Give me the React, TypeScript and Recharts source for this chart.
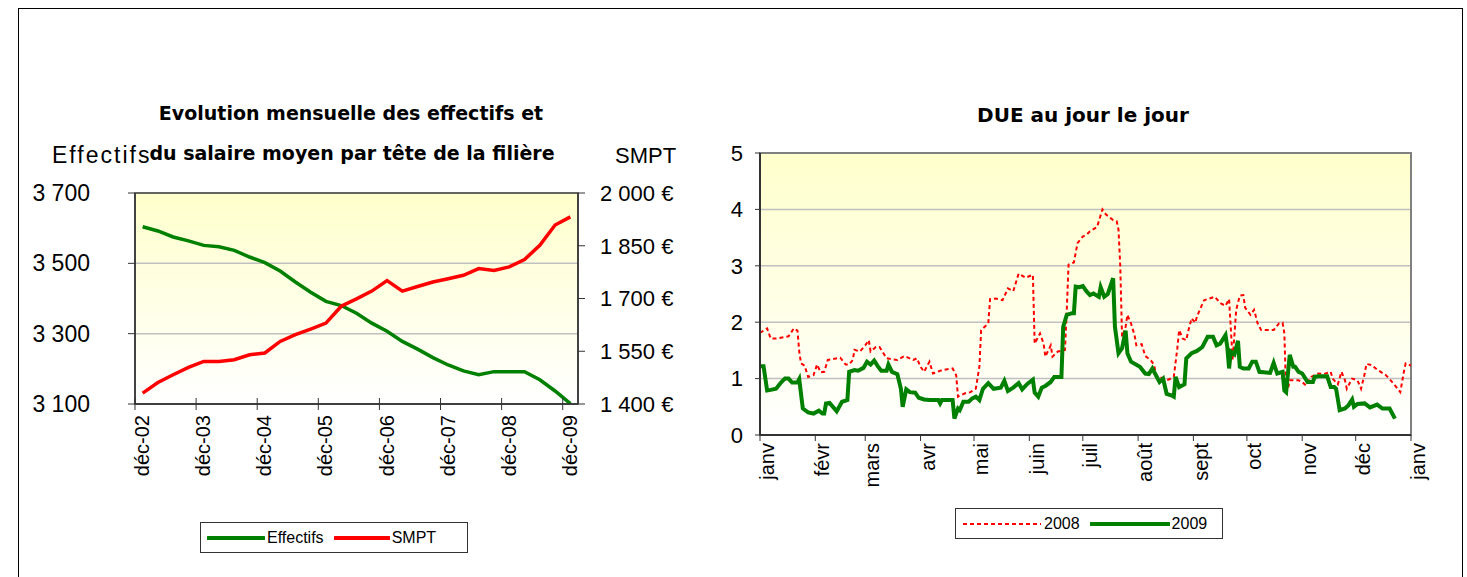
import React from 'react';
import { LineChart, Line, XAxis, YAxis, CartesianGrid, ReferenceArea } from 'recharts';

// ---- Left chart: quarterly workforce and average wage ----
const quarters = [
  'déc-02', 'mars-03', 'juin-03', 'sept-03', 'déc-03', 'mars-04', 'juin-04', 'sept-04',
  'déc-04', 'mars-05', 'juin-05', 'sept-05', 'déc-05', 'mars-06', 'juin-06', 'sept-06',
  'déc-06', 'mars-07', 'juin-07', 'sept-07', 'déc-07', 'mars-08', 'juin-08', 'sept-08',
  'déc-08', 'mars-09', 'juin-09', 'sept-09', 'déc-09',
];
const effectifs = [
  3604, 3592, 3575, 3564, 3551, 3547, 3537, 3518, 3502, 3478, 3447, 3418, 3392, 3380, 3358,
  3330, 3307, 3278, 3256, 3232, 3211, 3194, 3183, 3192, 3192, 3192, 3169, 3137, 3101,
];
const smpt = [
  1431, 1461, 1483, 1504, 1521, 1521, 1526, 1540, 1545, 1578, 1597, 1613, 1630, 1678, 1699,
  1721, 1751, 1721, 1734, 1747, 1756, 1766, 1785, 1780, 1790, 1811, 1851, 1909, 1932,
];
const yearTicks = [-0.5, 3.5, 7.5, 11.5, 15.5, 19.5, 23.5, 27.5];
const effectifsTicks = [3100, 3300, 3500, 3700];
const smptTicks = [1400, 1550, 1700, 1850, 2000];

// ---- Right chart: daily DUE, day of year ----
const monthStarts = [0, 31, 59, 90, 120, 151, 181, 212, 243, 273, 304, 334, 365];
const monthLabels = ['janv', 'févr', 'mars', 'avr', 'mai', 'juin', 'juil', 'août', 'sept', 'oct', 'nov', 'déc', 'janv'];
const dueTicks = [0, 1, 2, 3, 4, 5];

const days2008 = [
  0, 4, 6, 9, 16, 19, 21, 22, 23, 25, 27, 30, 32, 34, 36, 38, 40, 45, 48, 50, 52, 53, 56, 59, 61,
  62, 65, 67, 71, 77, 81, 86, 88, 90, 92, 95, 97, 102, 108, 110, 111, 115, 118, 121, 123, 124, 128,
  129, 132, 136, 139, 142, 145, 149, 153, 154, 157, 159, 160, 163, 164, 167, 171, 172, 173, 176,
  178, 181, 183, 185, 189, 192, 194, 198, 200, 201, 202, 203, 205, 206, 208, 210, 211, 214, 216,
  219, 221, 222, 226, 229, 232, 234, 235, 237, 239, 240, 242, 244, 245, 247, 249, 251, 255, 258,
  261, 263, 265, 267, 269, 271, 272, 275, 277, 279, 281, 288, 291, 293, 294, 295, 296, 297, 302,
  304, 306, 309, 313, 316, 320, 321, 324, 326, 328, 329, 332, 335, 337, 339, 340, 343, 346, 351,
  355, 359, 361, 362, 365,
];
const values2008 = [
  1.81, 1.89, 1.71, 1.71, 1.75, 1.89, 1.85, 1.48, 1.27, 1.23, 1.03, 1.06, 1.25, 1.11, 1.12, 1.33,
  1.34, 1.37, 1.25, 1.25, 1.33, 1.51, 1.48, 1.59, 1.68, 1.48, 1.56, 1.56, 1.36, 1.33, 1.4, 1.33,
  1.36, 1.21, 1.12, 1.3, 1.09, 1.15, 1.18, 1.06, 0.68, 0.74, 0.76, 0.82, 1.21, 1.86, 1.98, 2.41,
  2.42, 2.39, 2.6, 2.55, 2.86, 2.79, 2.84, 1.62, 1.8, 1.62, 1.39, 1.59, 1.39, 1.48, 1.51, 2.22,
  3.02, 3.06, 3.4, 3.52, 3.55, 3.61, 3.69, 4.0, 3.91, 3.81, 3.79, 3.64, 2.99, 1.74, 1.92, 2.13,
  1.98, 1.77, 1.59, 1.61, 1.4, 1.33, 1.24, 1.06, 1.0, 0.98, 1.03, 1.54, 1.86, 1.71, 1.68, 1.83,
  2.07, 1.99, 2.1, 2.25, 2.39, 2.41, 2.45, 2.34, 2.29, 2.41, 1.33, 2.22, 2.47, 2.48, 2.26, 2.13,
  2.22, 1.98, 1.86, 1.86, 1.98, 1.99, 1.8, 0.74, 0.82, 0.97, 0.97, 0.94, 0.88, 1.03, 1.09, 1.08,
  1.12, 1.0, 0.9, 1.12, 0.97, 0.82, 1.0, 0.97, 0.82, 1.08, 1.26, 1.24, 1.16, 1.06, 0.92, 0.76,
  1.12, 1.27, 1.23,
];
const days2009 = [
  0, 2, 4, 6, 9, 12, 14, 16, 18, 21, 22, 24, 27, 30, 33, 35, 36, 37, 39, 43, 46, 49, 50, 53, 55,
  58, 60, 62, 64, 66, 68, 71, 72, 74, 77, 79, 80, 82, 84, 87, 89, 92, 95, 100, 101, 102, 108, 109,
  111, 112, 114, 117, 119, 121, 123, 125, 128, 131, 135, 137, 139, 142, 145, 147, 150, 153, 154,
  156, 158, 160, 163, 165, 169, 170, 172, 175, 176, 177, 179, 181, 183, 185, 187, 190, 191, 193,
  195, 198, 199, 201, 203, 205, 206, 208, 213, 216, 218, 220, 222, 224, 226, 228, 231, 232, 233,
  235, 238, 239, 242, 245, 248, 251, 254, 256, 258, 261, 262, 263, 264, 266, 268, 269, 271, 274,
  276, 278, 280, 286, 288, 290, 293, 294, 295, 297, 299, 300, 302, 304, 307, 310, 311, 313, 318,
  320, 322, 323, 325, 328, 330, 332, 333, 335, 339, 342, 346, 349, 353, 356,
];
const values2009 = [
  1.22, 1.22, 0.79, 0.8, 0.82, 0.94, 1.0, 1.0, 0.93, 0.93, 0.99, 0.47, 0.4, 0.38, 0.43, 0.38, 0.38,
  0.56, 0.57, 0.42, 0.59, 0.62, 1.12, 1.15, 1.14, 1.19, 1.3, 1.25, 1.32, 1.22, 1.14, 1.14, 1.25,
  1.12, 1.08, 0.82, 0.5, 0.81, 0.76, 0.75, 0.66, 0.63, 0.62, 0.62, 0.56, 0.62, 0.62, 0.29, 0.47,
  0.44, 0.59, 0.59, 0.65, 0.68, 0.62, 0.82, 0.92, 0.82, 0.84, 0.96, 0.78, 0.84, 0.92, 0.81, 0.91,
  0.98, 0.75, 0.68, 0.84, 0.87, 0.94, 1.03, 1.03, 1.92, 2.13, 2.16, 2.16, 2.63, 2.62, 2.64, 2.55,
  2.48, 2.51, 2.45, 2.62, 2.45, 2.5, 2.78, 1.92, 1.45, 1.54, 1.85, 1.45, 1.3, 1.21, 1.09, 1.08,
  1.18, 1.06, 0.94, 1.0, 0.73, 0.7, 0.68, 1.03, 0.85, 0.9, 1.36, 1.45, 1.49, 1.56, 1.74, 1.74,
  1.59, 1.62, 1.77, 1.56, 1.18, 1.48, 1.43, 1.67, 1.21, 1.18, 1.18, 1.3, 1.3, 1.12, 1.1, 1.28,
  1.09, 1.12, 0.79, 0.76, 1.42, 1.21, 1.21, 1.12, 1.09, 0.94, 0.94, 1.03, 1.04, 1.04, 0.85, 0.85,
  0.82, 0.44, 0.47, 0.53, 0.63, 0.5, 0.55, 0.56, 0.49, 0.54, 0.47, 0.47, 0.29,
];

const GREEN = '#008000';
const RED = '#ff0000';
const SANS = '"Liberation Sans", Arial, sans-serif';
const TITLE = '"DejaVu Sans", sans-serif';

const leftData = quarters.map((q, i) => ({ idx: i, label: q, effectifs: effectifs[i], smpt: smpt[i] }));

const dueData = (() => {
  const map = new Map<number, { day: number; v2008?: number; v2009?: number }>();
  days2008.forEach((d, i) => map.set(d, { ...(map.get(d) || { day: d }), v2008: values2008[i] }));
  days2009.forEach((d, i) => map.set(d, { ...(map.get(d) || { day: d }), v2009: values2009[i] }));
  return Array.from(map.values()).sort((a, b) => a.day - b.day);
})();

const frNumber = (v: number) =>
  v >= 1000 ? `${Math.floor(v / 1000)} ${String(v % 1000).padStart(3, '0')}` : String(v);

// year tick: mark crossing the axis, rotated label
const YearTick = (props: any) => {
  const { x, y, payload } = props;
  const axisY = y - 8;
  const label = quarters[Math.round(payload.value + 0.5)];
  return (
    <g>
      <line x1={x} x2={x} y1={axisY - 6} y2={axisY + 6} stroke="#333" />
      <text x={x} y={y + 3} dy="0.71em" textAnchor="end" transform={`rotate(-90 ${x} ${y + 3})`}
        fontSize={20} fontFamily={SANS} fill="#000">{label}</text>
    </g>
  );
};

const MonthTick = (props: any) => {
  const { x, y, payload } = props;
  const label = monthLabels[monthStarts.indexOf(payload.value)];
  return (
    <text x={x} y={y} dy="0.71em" textAnchor="end" transform={`rotate(-90 ${x} ${y})`}
      fontSize={20} fontFamily={SANS} fill="#000">{label}</text>
  );
};

const LegendBox: React.FC<{
  left: number; top: number; width: number;
  items: { name: string; color: string; dash?: string; width: number; sample: number }[];
}> = ({ left, top, width, items }) => (
  <div style={{
    position: 'absolute', left, top, width, height: 31, border: '1px solid #333',
    display: 'flex', alignItems: 'center', paddingLeft: 6, boxSizing: 'border-box',
    fontFamily: SANS, fontSize: 16, background: '#fff',
  }}>
    {items.map((it) => (
      <div key={it.name} style={{ display: 'flex', alignItems: 'center', marginRight: 10 }}>
        <svg width={it.sample} height={10} style={{ marginRight: 2 }}>
          <line x1={1} x2={it.sample - 1} y1={5} y2={5} stroke={it.color} strokeWidth={it.width}
            strokeDasharray={it.dash} strokeLinecap={it.dash ? 'butt' : 'round'} />
        </svg>
        <span>{it.name}</span>
      </div>
    ))}
  </div>
);

const App: React.FC = () => (
  <div style={{ position: 'fixed', left: 0, top: 0, width: 1467, height: 577, overflow: 'hidden', background: '#fff' }}>
    <svg width={1467} height={577} style={{ position: 'absolute', left: 0, top: 0 }}>
      <rect x={18.5} y={8.5} width={1444} height={620} fill="none" stroke="#000" />
      <text x={351} y={120} textAnchor="middle" fontFamily={TITLE} fontWeight="bold" fontSize={19}>
        Evolution mensuelle des effectifs et
      </text>
      <text x={352} y={160} textAnchor="middle" fontFamily={TITLE} fontWeight="bold" fontSize={19}>
        du salaire moyen par tête de la filière
      </text>
      <text x={1083} y={122} textAnchor="middle" fontFamily={TITLE} fontWeight="bold" fontSize={20}>
        DUE au jour le jour
      </text>
      <text x={52} y={163} fontFamily={SANS} fontSize={23} letterSpacing={2}>Effectifs</text>
      <text x={615} y={163} fontFamily={SANS} fontSize={22}>SMPT</text>
    </svg>

    <div style={{ position: 'absolute', left: 0, top: 0 }}>
      <LineChart width={700} height={577} data={leftData}
        margin={{ top: 193, right: 32, left: 60, bottom: 73 }}>
        <defs>
          <linearGradient id="bgLeft" x1="0" y1="0" x2="0" y2="1">
            <stop offset="0%" stopColor="#ffffcc" />
            <stop offset="100%" stopColor="#ffffff" />
          </linearGradient>
        </defs>
        <CartesianGrid yAxisId="left" vertical={false} fill="url(#bgLeft)" stroke="#c0c0c0" strokeWidth={1.5} />
        <XAxis dataKey="idx" type="number" domain={[-0.5, 28.5]} ticks={yearTicks} interval={0}
          height={100} tick={<YearTick />} tickLine={false} axisLine={{ stroke: '#333', strokeWidth: 1.5 }} />
        <YAxis yAxisId="left" orientation="left" domain={[3100, 3700]} ticks={effectifsTicks} width={75}
          tickFormatter={frNumber} tickSize={7} tickMargin={38} interval={0}
          tick={{ fontSize: 23, fill: '#000', fontFamily: SANS }}
          axisLine={{ stroke: '#333', strokeWidth: 1.5 }} tickLine={{ stroke: '#333' }} />
        <YAxis yAxisId="right" orientation="right" domain={[1400, 2000]} ticks={smptTicks} width={90}
          tickFormatter={(v: number) => `${frNumber(v)} €`} tickSize={7} tickMargin={15} interval={0}
          tick={{ fontSize: 22, fill: '#000', fontFamily: SANS }}
          axisLine={{ stroke: '#333', strokeWidth: 1.5 }} tickLine={{ stroke: '#333' }} />
        <ReferenceArea yAxisId="left" x1={-0.5} x2={28.5} y1={3100} y2={3700} fill="none"
          stroke="#404040" strokeWidth={1.5} />
        <Line yAxisId="left" dataKey="effectifs" name="Effectifs" type="linear" stroke={GREEN}
          strokeWidth={3.5} dot={false} activeDot={false} isAnimationActive={false} />
        <Line yAxisId="right" dataKey="smpt" name="SMPT" type="linear" stroke={RED}
          strokeWidth={3.5} dot={false} activeDot={false} isAnimationActive={false} />
      </LineChart>
    </div>

    <div style={{ position: 'absolute', left: 700, top: 0 }}>
      <LineChart width={767} height={577} data={dueData}
        margin={{ top: 153, right: 56, left: 10, bottom: 62 }}>
        <defs>
          <linearGradient id="bgRight" x1="0" y1="0" x2="0" y2="1">
            <stop offset="0%" stopColor="#ffffcc" />
            <stop offset="100%" stopColor="#ffffff" />
          </linearGradient>
        </defs>
        <CartesianGrid vertical={false} fill="url(#bgRight)" stroke="#c0c0c0" strokeWidth={1.5} />
        <XAxis dataKey="day" type="number" domain={[0, 365]} ticks={monthStarts} interval={0}
          height={80} tick={<MonthTick />} tickSize={6} tickMargin={2}
          axisLine={{ stroke: '#333', strokeWidth: 2 }} tickLine={{ stroke: '#333' }} />
        <YAxis domain={[0, 5]} ticks={dueTicks} width={50} tickSize={5} tickMargin={12} interval={0}
          tick={{ fontSize: 22, fill: '#000', fontFamily: SANS }}
          axisLine={{ stroke: '#333', strokeWidth: 2 }} tickLine={{ stroke: '#333' }} />
        <ReferenceArea x1={0} x2={365} y1={0} y2={5} fill="none" stroke="#808080" strokeWidth={2} />
        <Line dataKey="v2008" name="2008" type="linear" stroke={RED} strokeWidth={2}
          strokeDasharray="4 3" connectNulls dot={false} activeDot={false} isAnimationActive={false} />
        <Line dataKey="v2009" name="2009" type="linear" stroke={GREEN} strokeWidth={4}
          connectNulls dot={false} activeDot={false} isAnimationActive={false} />
      </LineChart>
    </div>

    <LegendBox left={200} top={522} width={268} items={[
      { name: 'Effectifs', color: GREEN, width: 4, sample: 58 },
      { name: 'SMPT', color: RED, width: 4, sample: 56 },
    ]} />
    <LegendBox left={955} top={508} width={268} items={[
      { name: '2008', color: RED, width: 2, dash: '4 3', sample: 80 },
      { name: '2009', color: GREEN, width: 4, sample: 80 },
    ]} />
  </div>
);

export default App;
